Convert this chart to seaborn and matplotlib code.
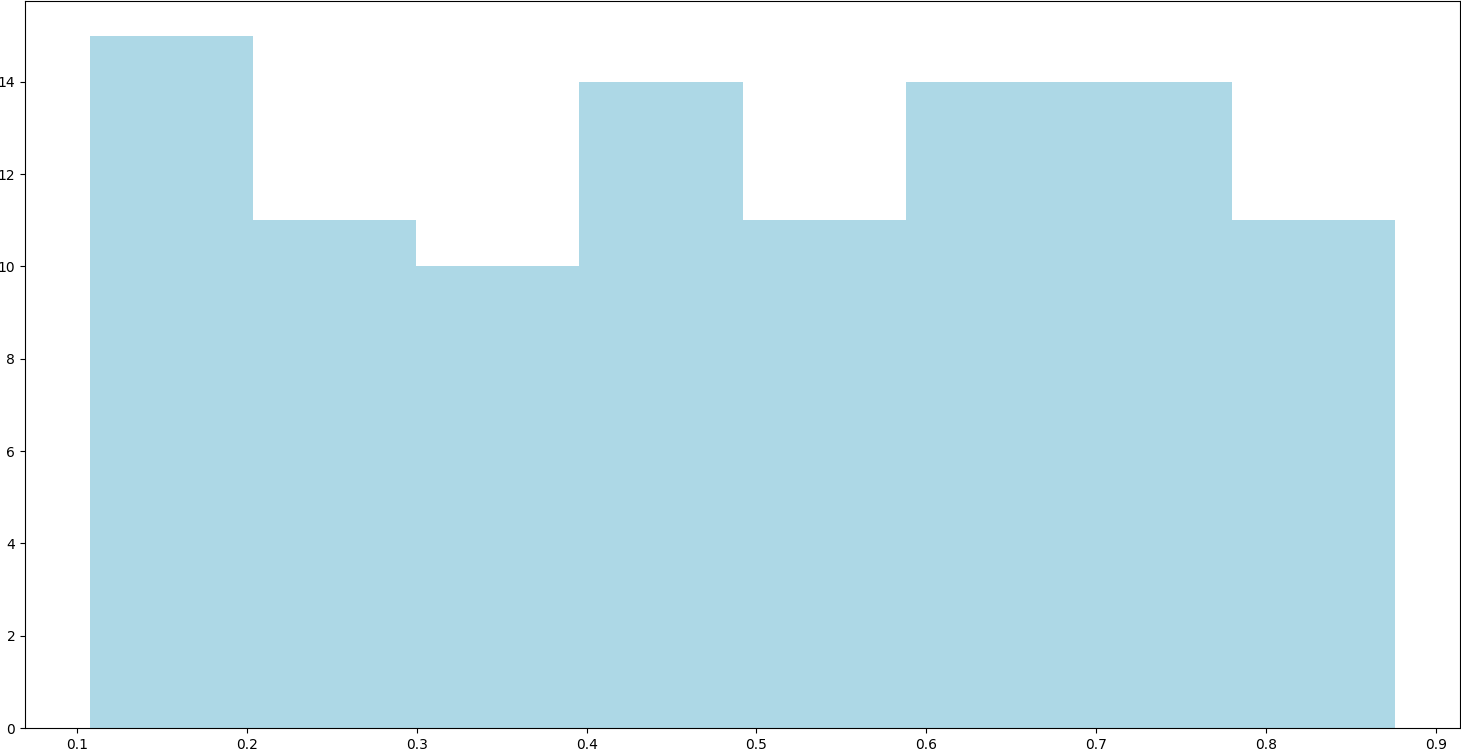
import matplotlib
matplotlib.use("Agg")
import matplotlib.pyplot as plt
import seaborn as sns
import numpy as np

# Histogram data
bin_edges = [0.1077, 0.2037, 0.2997, 0.3958, 0.4918, 0.5878, 0.6838, 0.7799, 0.8759]
counts = [15, 11, 10, 14, 11, 14, 14, 11]

centers = [(bin_edges[i] + bin_edges[i + 1]) / 2 for i in range(len(counts))]

fig = plt.figure(figsize=(14.61, 7.49), dpi=100)
ax = fig.add_axes([25 / 1461, 21 / 749, 1435 / 1461, 727 / 749])

sns.histplot(x=centers, weights=counts, bins=bin_edges, color="lightblue",
             alpha=1.0, linewidth=0, edgecolor="none", ax=ax)

ax.set_xlabel("")
ax.set_ylabel("")
ax.set_xticks([0.1, 0.2, 0.3, 0.4, 0.5, 0.6, 0.7, 0.8, 0.9])
ax.set_yticks([0, 2, 4, 6, 8, 10, 12, 14])

fig.savefig("out.png", dpi=100)
